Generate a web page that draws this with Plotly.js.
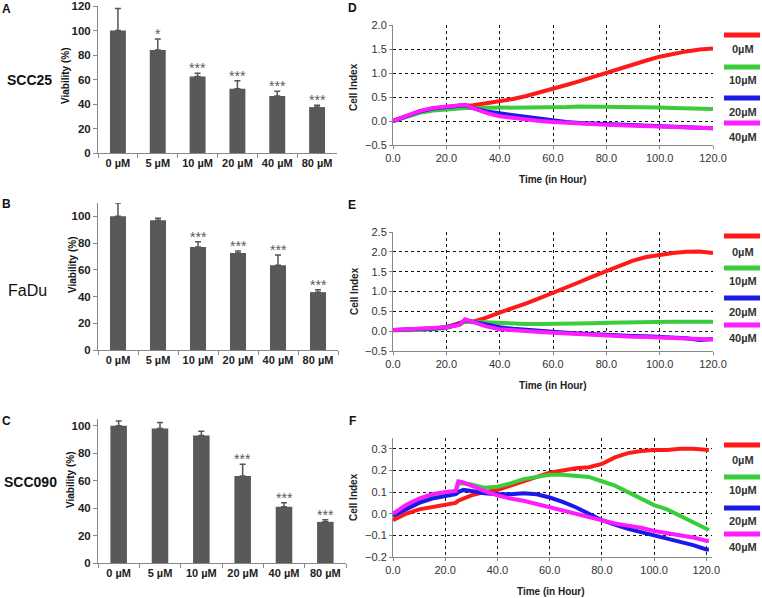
<!DOCTYPE html>
<html><head><meta charset="utf-8">
<script src="https://cdn.plot.ly/plotly-3.0.1.min.js"></script>
<style>html,body{margin:0;padding:0;background:#fff}</style></head>
<body><div id="chart" style="width:762px;height:598px"></div>
<script>
// ---------- bar data (viability %) ----------
const doses = ['0 µM','5 µM','10 µM','20 µM','40 µM','80 µM'];
const viabSCC25 = [100, 84, 62.5, 52.5, 46.5, 37.5];
const errSCC25  = [18, 9, 2.5, 6.5, 4, 1.5];
const starsSCC25 = ['', '*', '***', '***', '***', '***'];
const viabFaDu = [100, 97, 77, 72.5, 63.5, 43.3];
const errFaDu  = [10, 1.5, 4, 1.5, 7.5, 1.7];
const starsFaDu = ['', '', '***', '***', '***', '***'];
const viabSCC090 = [100, 98, 93, 63.5, 41, 30];
const errSCC090  = [3.6, 4.5, 3, 8.5, 3, 1.5];
const starsSCC090 = ['', '', '', '***', '***', '***'];

// ---------- cell index data ----------
const concLabels = ['0µM', '10µM', '20µM', '40µM'];
const timeDE = [0,5,10,15,20,25,27,30,35,40,45,50,55,60,65,70,75,80,85,90,95,100,105,110,115,120];
const dRed     = [0,0.1,0.19,0.25,0.29,0.31,0.32,0.33,0.37,0.41,0.46,0.52,0.59,0.67,0.75,0.83,0.92,1.0,1.08,1.17,1.26,1.34,1.4,1.45,1.49,1.51];
const dGreen   = [0,0.09,0.17,0.22,0.25,0.26,0.27,0.27,0.27,0.28,0.28,0.28,0.28,0.29,0.29,0.3,0.3,0.3,0.3,0.3,0.29,0.28,0.27,0.26,0.25,0.25];
const dBlue    = [0,0.1,0.2,0.26,0.29,0.31,0.33,0.27,0.2,0.16,0.12,0.08,0.04,0.01,-0.02,-0.04,-0.05,-0.06,-0.07,-0.08,-0.09,-0.1,-0.11,-0.12,-0.14,-0.15];
const dMagenta = [0,0.1,0.21,0.27,0.3,0.31,0.34,0.27,0.17,0.1,0.06,0.03,0.0,-0.02,-0.04,-0.05,-0.07,-0.08,-0.09,-0.1,-0.11,-0.12,-0.13,-0.14,-0.15,-0.15];

const eRed     = [0.02,0.03,0.05,0.07,0.1,0.2,0.25,0.24,0.34,0.47,0.58,0.7,0.83,0.96,1.1,1.24,1.38,1.52,1.66,1.78,1.87,1.93,1.97,2.0,2.01,1.97];
const eGreen   = [0.02,0.02,0.03,0.05,0.08,0.17,0.24,0.24,0.22,0.2,0.19,0.18,0.18,0.18,0.18,0.19,0.2,0.21,0.22,0.22,0.23,0.23,0.24,0.24,0.24,0.24];
const eBlue    = [0.03,0.04,0.05,0.07,0.1,0.18,0.28,0.24,0.16,0.1,0.06,0.03,0.01,-0.02,-0.04,-0.06,-0.08,-0.09,-0.11,-0.12,-0.13,-0.14,-0.16,-0.18,-0.22,-0.2];
const eMagenta = [0.03,0.04,0.05,0.08,0.1,0.16,0.3,0.24,0.12,0.05,0.02,0.0,-0.02,-0.04,-0.06,-0.08,-0.1,-0.11,-0.12,-0.14,-0.15,-0.16,-0.17,-0.19,-0.2,-0.21];

const timeF = [0,5,10,15,20,24,25,27,30,35,40,45,50,55,60,65,70,75,80,85,90,95,100,105,110,115,120,121];
const fRed     = [-0.03,0,0.02,0.03,0.04,0.05,0.06,0.07,0.085,0.1,0.11,0.13,0.15,0.17,0.19,0.2,0.21,0.215,0.23,0.26,0.28,0.29,0.295,0.295,0.3,0.3,0.295,0.295];
const fGreen   = [0,0.03,0.06,0.08,0.09,0.1,0.14,0.14,0.135,0.12,0.125,0.14,0.16,0.17,0.18,0.18,0.175,0.17,0.15,0.13,0.1,0.07,0.04,0.02,-0.01,-0.04,-0.07,-0.075];
const fBlue    = [-0.01,0.02,0.05,0.07,0.08,0.09,0.1,0.11,0.105,0.095,0.09,0.09,0.095,0.09,0.075,0.055,0.03,0,-0.03,-0.05,-0.07,-0.085,-0.1,-0.115,-0.13,-0.145,-0.165,-0.165];
const fMagenta = [0,0.04,0.07,0.09,0.1,0.105,0.15,0.145,0.13,0.105,0.085,0.07,0.06,0.045,0.03,0.015,0,-0.015,-0.03,-0.045,-0.055,-0.065,-0.08,-0.09,-0.1,-0.11,-0.125,-0.125];

const lineColors = ['#ff1a1a', '#3acc3a', '#1a1ae6', '#ff1aff'];

// ---------- helpers ----------
const W = 762, H = 598;
const px = v => v / W;
const py = v => 1 - v / H;

const traces = [];
const annotations = [];
const shapes = [];

const barSets = [
  {v: viabSCC25, e: errSCC25, s: starsSCC25, ax: ''},
  {v: viabFaDu, e: errFaDu, s: starsFaDu, ax: '2'},
  {v: viabSCC090, e: errSCC090, s: starsSCC090, ax: '3'}
];
barSets.forEach(b => {
  traces.push({
    type: 'bar', x: doses, y: b.v, xaxis: 'x' + b.ax, yaxis: 'y' + b.ax,
    marker: {color: '#595959'}, width: 0.4, showlegend: false,
    error_y: {type: 'data', symmetric: false, array: b.e, arrayminus: b.e.map(() => 0),
              color: '#555', thickness: 1.5, width: 3}
  });
  b.s.forEach((st, i) => {
    if (!st) return;
    annotations.push({xref: 'x' + b.ax, yref: 'y' + b.ax, x: doses[i], y: b.v[i] + b.e[i],
      text: st, showarrow: false, yanchor: 'bottom', yshift: -5,
      font: {family: 'Arial', size: 14, color: '#5a5a5a'}});
  });
});

const lineSets = [
  {t: timeDE, ys: [dRed, dGreen, dBlue, dMagenta], ax: '4'},
  {t: timeDE, ys: [eRed, eGreen, eBlue, eMagenta], ax: '5'},
  {t: timeF, ys: [fRed, fGreen, fBlue, fMagenta], ax: '6'}
];
lineSets.forEach(ls => {
  ls.ys.forEach((y, k) => {
    traces.push({type: 'scatter', mode: 'lines', x: ls.t, y: y, name: concLabels[k],
      xaxis: 'x' + ls.ax, yaxis: 'y' + ls.ax, showlegend: false,
      line: {color: lineColors[k], width: 4}});
  });
});

// ---------- axes ----------
const barX = (d0, d1) => ({
  domain: [px(d0), px(d1)], showline: true, linecolor: '#888', linewidth: 1,
  ticks: 'outside', tickson: 'boundaries', ticklen: 4, tickcolor: '#888', tickangle: 0,
  tickfont: {family: 'Arial', size: 11, color: '#222', weight: 'bold'}, fixedrange: true
});
const barY = (top, bot, range) => ({
  domain: [py(bot), py(top)], range: range, dtick: 20, showline: true, linecolor: '#888',
  ticks: 'outside', ticklen: 4, tickcolor: '#888', showgrid: false, zeroline: false,
  tickfont: {family: 'Arial', size: 11.5, color: '#222', weight: 'bold'}
});
const lineX = (d0, d1, range, anchor) => ({
  domain: [px(d0), px(d1)], range: range, dtick: 20, tickformat: '.1f', tickangle: 0,
  showline: true, linecolor: '#888', ticks: 'outside', ticklen: 3, tickcolor: '#888',
  showgrid: true, gridcolor: '#111', griddash: 'dot', gridwidth: 1, zeroline: false,
  tickfont: {family: 'Liberation Sans, Arial', size: 11, color: '#333'}, anchor: anchor
});
const lineY = (top, bot, range, dtick, anchor) => ({
  domain: [py(bot), py(top)], range: range, dtick: dtick, tickformat: '.1f',
  showline: true, linecolor: '#888', ticks: 'outside', ticklen: 3, tickcolor: '#888',
  showgrid: true, gridcolor: '#111', griddash: 'dot', gridwidth: 1, zeroline: false,
  tickfont: {family: 'Liberation Sans, Arial', size: 11, color: '#333'}, anchor: anchor
});

const layout = {
  width: W, height: H, margin: {l: 0, r: 0, t: 0, b: 0},
  paper_bgcolor: '#fff', plot_bgcolor: 'rgba(0,0,0,0)', showlegend: false,
  bargap: 0.6,
  xaxis: Object.assign(barX(98, 337), {anchor: 'y'}),
  yaxis: Object.assign(barY(6, 153, [0, 120]), {anchor: 'x'}),
  xaxis2: Object.assign(barX(98, 338), {anchor: 'y2'}),
  yaxis2: Object.assign(barY(203, 350, [0, 110]), {anchor: 'x2'}),
  xaxis3: Object.assign(barX(98, 346), {anchor: 'y3'}),
  yaxis3: Object.assign(barY(419, 563, [0, 105]), {anchor: 'x3'}),
  xaxis4: lineX(393, 713, [0, 120], 'y4'),
  yaxis4: lineY(25, 145, [-0.5, 2.0], 0.5, 'x4'),
  xaxis5: lineX(393, 713, [0, 120], 'y5'),
  yaxis5: lineY(232, 351, [-0.5, 2.5], 0.5, 'x5'),
  xaxis6: lineX(393, 711.5, [0, 122], 'y6'),
  yaxis6: lineY(438, 557, [-0.2, 0.35], 0.1, 'x6'),
  annotations: annotations,
  shapes: shapes
};

// ---------- text labels ----------
const txt = (x, y, text, opts) => Object.assign({xref: 'paper', yref: 'paper', x: px(x), y: py(y),
  text: text, showarrow: false, xanchor: 'center', yanchor: 'middle'}, opts || {});
const boldArial = (s, c) => ({family: 'Arial', size: s, color: c || '#111', weight: 'bold'});

annotations.push(txt(6, 9, 'A', {font: boldArial(12)}));
annotations.push(txt(6, 204, 'B', {font: boldArial(12)}));
annotations.push(txt(6, 421, 'C', {font: boldArial(12)}));
annotations.push(txt(352, 8, 'D', {font: boldArial(12)}));
annotations.push(txt(352, 205, 'E', {font: boldArial(12)}));
annotations.push(txt(352, 421, 'F', {font: boldArial(12)}));

annotations.push(txt(29, 80, 'SCC25', {font: boldArial(14)}));
annotations.push(txt(27, 290, 'FaDu', {font: {family: 'Arial', size: 16, color: '#111'}}));
annotations.push(txt(30, 482, 'SCC090', {font: boldArial(14)}));

annotations.push(txt(65, 76, 'Viability (%)', {textangle: -90, font: boldArial(10)}));
annotations.push(txt(72, 265, 'Viability (%)', {textangle: -90, font: boldArial(10)}));
annotations.push(txt(70, 480, 'Viability (%)', {textangle: -90, font: boldArial(10)}));

annotations.push(txt(353, 87, 'Cell Index', {textangle: -90, font: boldArial(10, '#222')}));
annotations.push(txt(354, 291, 'Cell Index', {textangle: -90, font: boldArial(10, '#222')}));
annotations.push(txt(353, 497, 'Cell Index', {textangle: -90, font: boldArial(10, '#222')}));

annotations.push(txt(553, 179, 'Time (in Hour)', {font: boldArial(10, '#222')}));
annotations.push(txt(553, 385, 'Time (in Hour)', {font: boldArial(10, '#222')}));
annotations.push(txt(551, 591, 'Time (in Hour)', {font: boldArial(10, '#222')}));

// ---------- custom legends ----------
const legendRows = [
  {lines: [35, 67, 98, 123], texts: [49, 80, 112, 137]},
  {lines: [236, 268, 298, 325], texts: [252, 281, 312, 338]},
  {lines: [445, 477, 508, 534], texts: [460, 490, 521, 547]}
];
legendRows.forEach(r => {
  r.lines.forEach((ly, k) => {
    shapes.push({type: 'line', xref: 'paper', yref: 'paper', x0: px(724), x1: px(760),
      y0: py(ly), y1: py(ly), line: {color: lineColors[k], width: 5}});
    annotations.push(txt(743, r.texts[k], concLabels[k],
      {font: {family: 'Liberation Sans, Arial', size: 11, color: '#333', weight: 'bold'}}));
  });
});

Plotly.newPlot('chart', traces, layout, {displayModeBar: false, staticPlot: true});
</script>
</body></html>
